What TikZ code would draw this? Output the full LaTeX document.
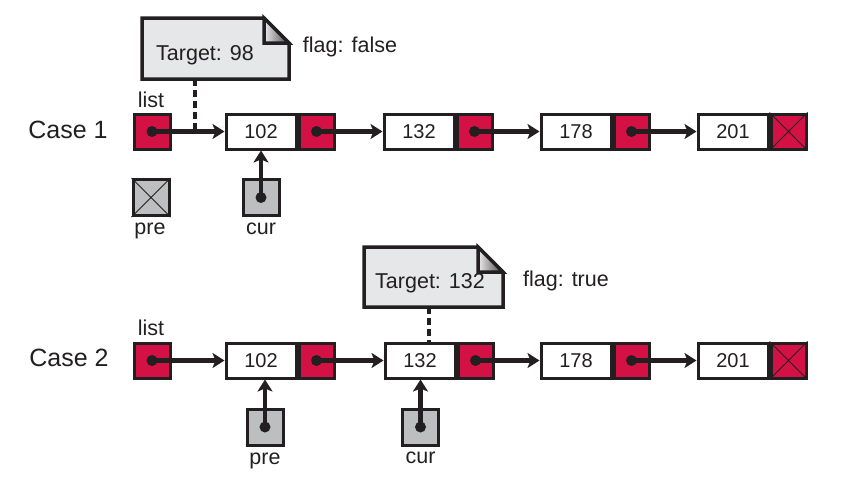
\documentclass[tikz,border=0pt]{standalone}
\usepackage{fontspec}
\setmainfont{Liberation Sans}
\usetikzlibrary{arrows.meta}
\definecolor{ink}{HTML}{231F20}
\definecolor{ptrred}{HTML}{D31145}
\definecolor{boxgray}{HTML}{BCBEC0}
\definecolor{notegray}{HTML}{E6E7E8}
\begin{document}
\begin{tikzpicture}[x=1pt,y=-1pt,
  valbox/.style={draw=ink,line width=3pt,fill=white,minimum width=70pt,minimum height=35pt,inner sep=0pt,font=\fontsize{20}{24}\selectfont,text=ink},
  ptrbox/.style={draw=ink,line width=3pt,fill=ptrred,minimum width=35pt,minimum height=35pt,inner sep=0pt},
  grbox/.style={ptrbox,fill=boxgray,minimum width=36pt,minimum height=36pt},
  ptr/.style={draw=ink,line width=4.2pt,-{Stealth[length=12pt,width=15pt,inset=3pt]}},
  lbl/.style={font=\fontsize{21.5}{26}\selectfont,text=ink,inner sep=0pt},
  casel/.style={font=\fontsize{25}{30}\selectfont,text=ink,inner sep=0pt},
  notebody/.style={draw=ink,line width=3.5pt,fill=notegray,line join=miter},
  notefold/.style={draw=ink,line width=3.5pt,left color=white!85!gray,right color=gray!55!black,line join=miter},
  hint/.style={draw=ink,line width=4pt,dash pattern=on 7pt off 4pt},
  xline/.style={draw=ink,line width=0.9pt}]
\useasboundingbox (0,0) rectangle (849,485);

% ---------- Case 1 ----------
\node[casel] (c1) at (68,130) {Case 1};
\node[lbl] (l1lab) at (151,100) {list};
\node[ptrbox,minimum width=36pt] (l1) at (152,131.5) {};
\node[valbox] (a1) at (261,131.5) {102};
\node[ptrbox,anchor=west] (a1p) at (a1.east) {};
\node[valbox] (b1) at (419,131.5) {132};
\node[ptrbox,anchor=west] (b1p) at (b1.east) {};
\node[valbox] (d1) at (576,131.5) {178};
\node[ptrbox,anchor=west] (d1p) at (d1.east) {};
\node[valbox] (e1) at (733,131.5) {201};
\node[ptrbox,anchor=west] (e1p) at (e1.east) {};
\draw[xline] (e1p.north west) -- (e1p.south east) (e1p.north east) -- (e1p.south west);

\foreach \s/\t in {l1/a1,a1p/b1,b1p/d1,d1p/e1}{
  \fill[ink] (\s.center) circle[radius=5.5];
  \draw[ptr] (\s.center) -- (\t.west);
}

% pre / cur (case 1)
\node[grbox] (pre1) at (151,197.5) {};
\draw[xline] (pre1.north west) -- (pre1.south east) (pre1.north east) -- (pre1.south west);
\node[lbl] (pre1lab) at (150,231) {pre};
\node[grbox] (cur1) at (261,197.5) {};
\node[lbl] (cur1lab) at (261,229) {cur};
\fill[ink] (cur1.center) circle[radius=5.5];
\draw[ptr] (cur1.center) -- (a1.south);

% note 1
\path[notebody] (142,18) -- (264,18) -- (289,43) -- (289,79) -- (142,79) -- cycle;
\path[notefold] (264,18) -- (264,43) -- (289,43) -- cycle;
\node[lbl] (t1) at (205,55) {Target: 98};
\node[lbl] (f1) at (350,47) {flag: false};
\coordinate (t1b) at (195,79);
\coordinate (t1e) at (195,129);
\draw[hint] (t1b) -- (t1e);

% ---------- Case 2 ----------
\node[casel] (c2) at (69,358) {Case 2};
\node[lbl] (l2lab) at (151,328) {list};
\node[ptrbox,minimum width=36pt] (l2) at (152,360.5) {};
\node[valbox] (a2) at (261,360.5) {102};
\node[ptrbox,anchor=west] (a2p) at (a2.east) {};
\node[valbox] (b2) at (420,360.5) {132};
\node[ptrbox,anchor=west] (b2p) at (b2.east) {};
\node[valbox] (d2) at (576,360.5) {178};
\node[ptrbox,anchor=west] (d2p) at (d2.east) {};
\node[valbox] (e2) at (733,360.5) {201};
\node[ptrbox,anchor=west] (e2p) at (e2.east) {};
\draw[xline] (e2p.north west) -- (e2p.south east) (e2p.north east) -- (e2p.south west);

\foreach \s/\t in {l2/a2,a2p/b2,b2p/d2,d2p/e2}{
  \fill[ink] (\s.center) circle[radius=5.5];
  \draw[ptr] (\s.center) -- (\t.west);
}

% pre / cur (case 2)
\node[grbox] (pre2) at (265,427) {};
\node[lbl] (pre2lab) at (265,461) {pre};
\fill[ink] (pre2.center) circle[radius=5.5];
\draw[ptr] (pre2.center) -- (pre2.center |- a2.south);
\node[grbox] (cur2) at (420.5,427) {};
\node[lbl] (cur2lab) at (420.5,458) {cur};
\fill[ink] (cur2.center) circle[radius=5.5];
\draw[ptr] (cur2.center) -- (cur2.center |- b2.south);

% note 2
\path[notebody] (364,247) -- (478,247) -- (503,272) -- (503,307) -- (364,307) -- cycle;
\path[notefold] (478,247) -- (478,272) -- (503,272) -- cycle;
\node[lbl] (t2) at (430,283) {Target: 132};
\node[lbl] (f2) at (566,281) {flag: true};
\coordinate (t2b) at (429,307);
\draw[hint] (t2b) -- (t2b |- b2.north);
\end{tikzpicture}
\end{document}
